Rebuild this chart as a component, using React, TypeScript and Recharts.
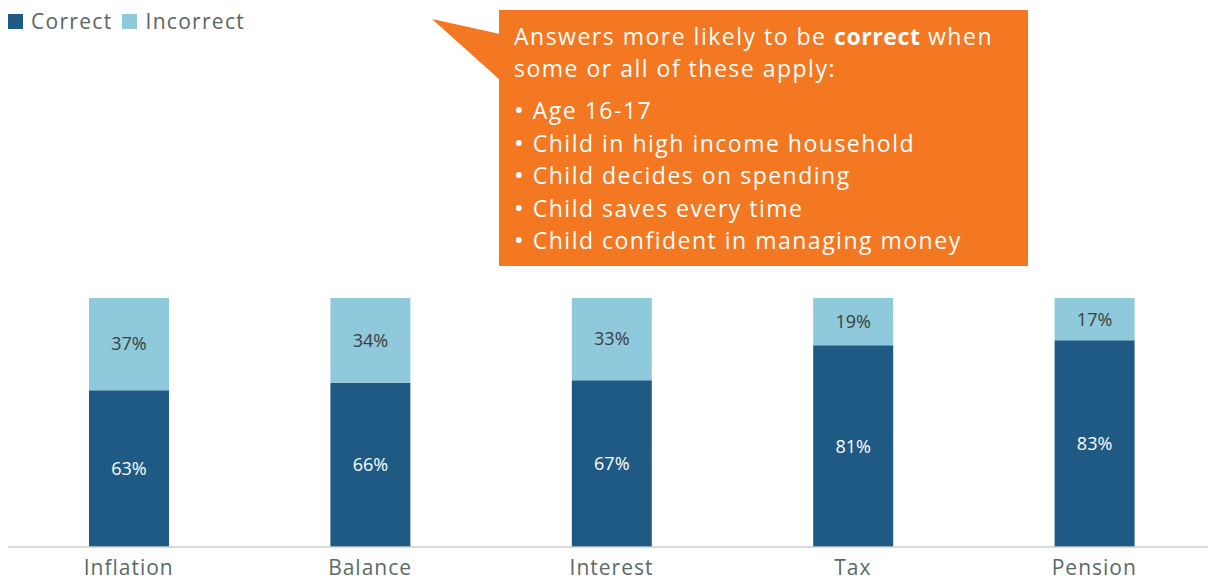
import { BarChart, Bar, XAxis, YAxis, LabelList } from 'recharts';

const categories = ['Inflation', 'Balance', 'Interest', 'Tax', 'Pension'];
const correct = [63, 66, 67, 81, 83];
const incorrect = [37, 34, 33, 19, 17];

const calloutLead = 'Answers more likely to be ';
const calloutBold = 'correct';
const calloutTail = ' when';
const calloutLine2 = 'some or all of these apply:';
const calloutBullets = [
  'Age 16-17',
  'Child in high income household',
  'Child decides on spending',
  'Child saves every time',
  'Child confident in managing money',
];

const DARK = '#1f5a85';
const LIGHT = '#8ecadb';
const ORANGE = '#f47721';
const FONT = '"Open Sans", Lato, sans-serif';

const data = categories.map((name, i) => ({ name, correct: correct[i], incorrect: incorrect[i] }));

function LegendBox() {
  const items = [
    { label: 'Correct', color: DARK },
    { label: 'Incorrect', color: LIGHT },
  ];
  return (
    <div style={{ position: 'absolute', left: 8, top: 6, display: 'flex', alignItems: 'center', fontFamily: FONT, fontSize: 21, letterSpacing: 1.3, color: '#5a6660', lineHeight: '30px' }}>
      {items.map(it => (
        <span key={it.label} style={{ display: 'flex', alignItems: 'center', marginRight: 10 }}>
          <span style={{ width: 15, height: 15, background: it.color, marginRight: 8, display: 'inline-block' }} />
          {it.label}
        </span>
      ))}
    </div>
  );
}

function Callout() {
  return (
    <div style={{ position: 'absolute', left: 432, top: 10, width: 600, height: 260 }}>
      <svg width={70} height={100} style={{ position: 'absolute', left: 0, top: 0 }}>
        <polygon points="0,9 68,24 68,70" fill={ORANGE} />
      </svg>
      <div
        style={{
          position: 'absolute', left: 67, top: 0, width: 529, height: 256, background: ORANGE,
          color: '#fff', fontFamily: FONT, fontSize: 23, letterSpacing: 1.5, lineHeight: '32px', boxSizing: 'border-box',
          padding: '10px 6px 0 15px', whiteSpace: 'nowrap',
        }}
      >
        <div>{calloutLead}<b style={{ letterSpacing: 0.6 }}>{calloutBold}</b>{calloutTail}</div>
        <div>{calloutLine2}</div>
        <div style={{ marginTop: 10 }}>
          {calloutBullets.map(b => (
            <div key={b} style={{ height: 32.5 }}><span style={{ fontSize: 26, lineHeight: 0 }}>{'\u2022'}</span>{' '}{b}</div>
          ))}
        </div>
      </div>
    </div>
  );
}

export default function App() {
  return (
    <div style={{ position: 'absolute', left: 0, top: 0, width: 1208, height: 581, overflow: 'hidden', background: '#fff' }}>
      <div style={{ position: 'absolute', left: 8, top: 0 }}>
        <BarChart width={1207} height={581} data={data} margin={{ top: 298, right: 0, bottom: 4, left: 0 }} barSize={80}>
          <XAxis
            dataKey="name"
            axisLine={{ stroke: '#c8cfcf', strokeWidth: 1.5 }}
            tickLine={false}
            tickMargin={7}
            height={30}
            tick={{ fill: '#5a6b66', fontSize: 21, fontFamily: FONT, letterSpacing: 1 }}
          />
          <YAxis hide domain={[0, 100]} />
          <Bar dataKey="correct" stackId="a" fill={DARK} isAnimationActive={false}>
            <LabelList
              dataKey="correct"
              position="center"
              formatter={(v: number) => `${v}%`}
              style={{ fill: '#fff', fontSize: 18, fontFamily: FONT }}
            />
          </Bar>
          <Bar dataKey="incorrect" stackId="a" fill={LIGHT} isAnimationActive={false}>
            <LabelList
              dataKey="incorrect"
              position="center"
              formatter={(v: number) => `${v}%`}
              style={{ fill: '#3d3d3d', fontSize: 18, fontFamily: FONT }}
            />
          </Bar>
        </BarChart>
      </div>
      <LegendBox />
      <Callout />
    </div>
  );
}
